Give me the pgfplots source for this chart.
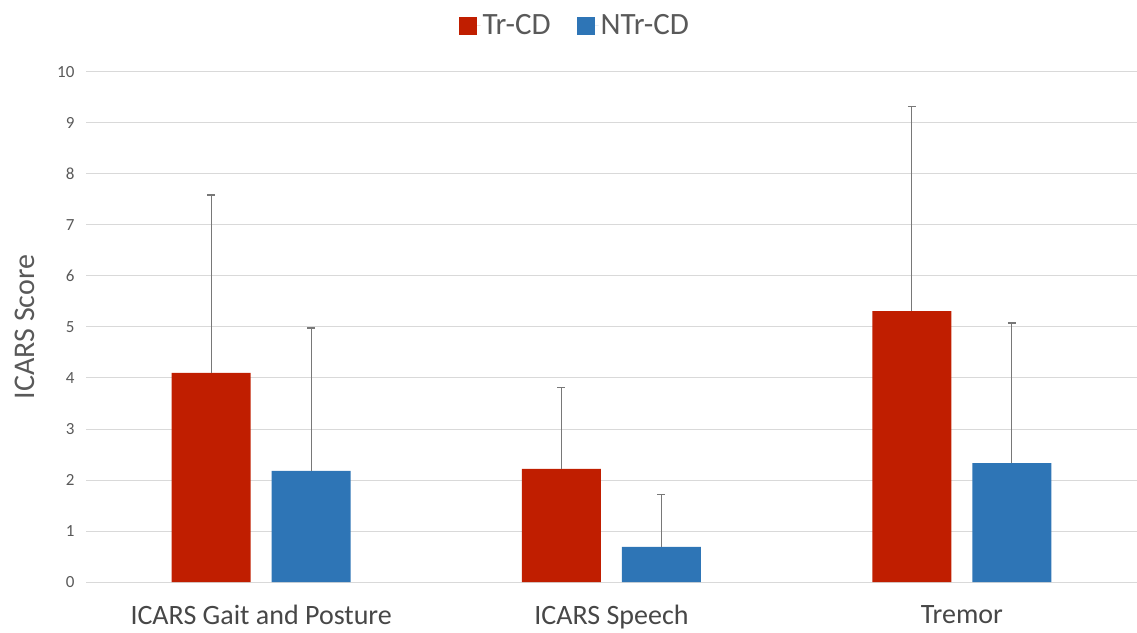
\documentclass[border=0pt]{standalone}
\usepackage{fontspec}
\setmainfont{Carlito}
\usepackage{pgfplots}
\pgfplotsset{compat=1.18}
\definecolor{trred}{RGB}{192,30,0}
\definecolor{ntrblue}{RGB}{46,117,182}
\definecolor{gridgray}{RGB}{217,217,217}
\definecolor{ticktext}{RGB}{89,89,89}
\definecolor{errgray}{RGB}{120,120,120}
\begin{document}
\begin{tikzpicture}[x=1pt,y=1pt]
\path[use as bounding box] (0,0) rectangle (1137,632);
\begin{axis}[
  at={(86pt,50pt)}, anchor=south west,
  scale only axis, width=1051pt, height=510pt,
  ymin=0, ymax=10, ytick={0,1,...,10},
  xmin=-0.5, xmax=2.5,
  xtick={0,1,2},
  xticklabels={ICARS Gait and Posture, ICARS Speech, Tremor},
  axis line style={draw=none},
  major tick length=0pt,
  ymajorgrids, grid style={gridgray, line width=1pt},
  ybar, bar width=79pt,
  /pgf/number format/assume math mode=true,
  yticklabel style={font=\fontsize{17}{17}\selectfont, text=ticktext, xshift=-8pt},
  xticklabel style={font=\fontsize{28}{28}\selectfont, text=ticktext!80!black, yshift=-20pt},
  ylabel={ICARS Score},
  ylabel style={font=\fontsize{30}{30}\selectfont, text=ticktext, yshift=16pt},
  legend style={at={(0.465,1.091)}, anchor=center, draw=none, fill=none,
    font=\fontsize{31}{31}\selectfont, text=ticktext,
    legend columns=2,
    /tikz/every even column/.append style={column sep=24pt}},
  legend image code/.code={\fill[#1] (0pt,-9pt) rectangle (18pt,9pt); \path (18pt,0pt) -- (22pt,0pt);},
  error bars/y dir=plus, error bars/y explicit,
  error bars/error bar style={errgray, line width=1.3pt},
  error bars/error mark options={rotate=90, errgray, mark size=4pt, line width=1.3pt},
]
\addplot[fill=trred, draw=none, bar shift=-50pt]
coordinates {
(0, 4.10) +- (0, 3.49)
(1, 2.22) +- (0, 1.60)
(2, 5.31) +- (0, 4.02)
};
\addplot[fill=ntrblue, draw=none, bar shift=50pt]
coordinates {
(0, 2.18) +- (0, 2.80)
(1, 0.69) +- (0, 1.02)
(2, 2.33) +- (0, 2.75)
};
\legend{Tr-CD, NTr-CD}
\end{axis}
\end{tikzpicture}
\end{document}
